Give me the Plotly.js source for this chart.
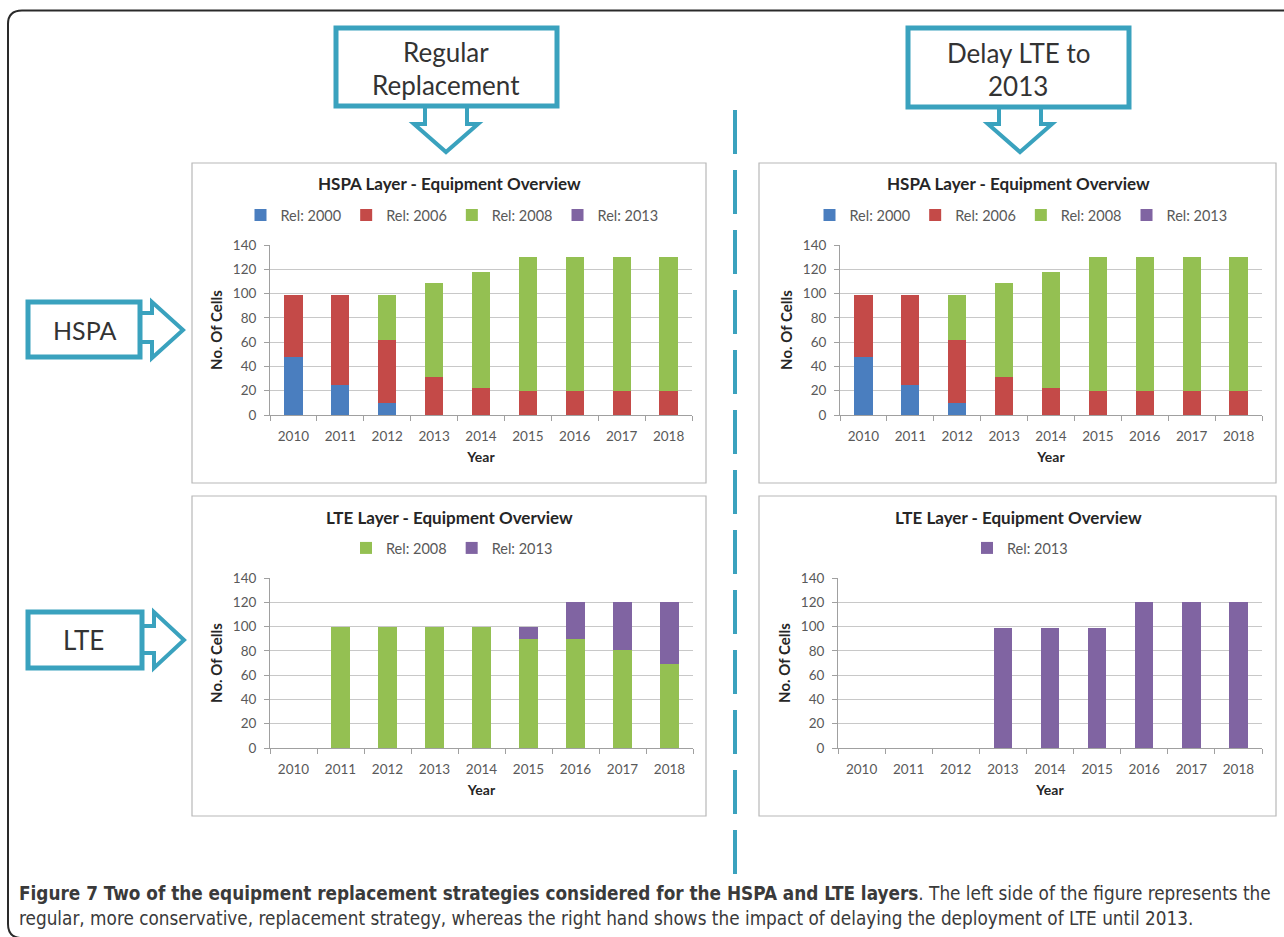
<!DOCTYPE html>
<html>
<head>
<meta charset="utf-8">
<script src="https://cdn.plot.ly/plotly-3.0.1.min.js"></script>
<style>
html,body{margin:0;padding:0;background:#fff;}
#chart{width:1284px;height:937px;}
</style>
</head>
<body>
<div id="chart"></div>
<script>
// ---------------- data ----------------
const years = ['2010','2011','2012','2013','2014','2015','2016','2017','2018'];
const seriesNames = ['Rel: 2000','Rel: 2006','Rel: 2008','Rel: 2013'];

// HSPA layer (identical in both strategies)
const hspaRel2000 = [48, 25, 10, 0, 0, 0, 0, 0, 0];
const hspaRel2006 = [51, 74, 52, 31, 22, 20, 20, 20, 20];
const hspaRel2008 = [0, 0, 37, 78, 96, 110, 110, 110, 110];
const hspaRel2013 = [0, 0, 0, 0, 0, 0, 0, 0, 0];

// LTE layer - regular replacement
const lteRegularRel2008 = [0, 100, 100, 100, 100, 90, 90, 81, 69];
const lteRegularRel2013 = [0, 0, 0, 0, 0, 10, 30, 39, 51];

// LTE layer - delay LTE to 2013
const lteDelayRel2013 = [0, 0, 0, 99, 99, 99, 120, 120, 120];

const chartTitle = {hspa: 'HSPA Layer - Equipment Overview', lte: 'LTE Layer - Equipment Overview'};
const yTitle = 'No. Of Cells';
const xTitle = 'Year';
const captionBold = 'Figure 7 Two of the equipment replacement strategies considered for the HSPA and LTE layers';
const captionLine1 = '. The left side of the figure represents the';
const captionLine2 = 'regular, more conservative, replacement strategy, whereas the right hand shows the impact of delaying the deployment of LTE until 2013.';

// ---------------- styling ----------------
const W = 1284, H = 937;
const colors = {'Rel: 2000':'#4a7ebf','Rel: 2006':'#c44a48','Rel: 2008':'#94c052','Rel: 2013':'#8064a2'};
const teal = '#3aa2be';
const px = x => x / W;
const py = y => 1 - y / H;
const FONT = 'Lato, "Open Sans", sans-serif';

// plot areas in pixels [x0, x1, y0(top), y1(bottom)]
const areas = [
  [270, 692, 245, 415],   // top-left
  [270, 693, 578, 748],   // bottom-left
  [840, 1262, 245, 415],  // top-right
  [838, 1262, 578, 748]   // bottom-right
];

const traces = [];
function addBar(idx, name, values) {
  const sfx = idx === 0 ? '' : String(idx + 1);
  traces.push({
    type: 'bar', x: years, y: values, name: name,
    xaxis: 'x' + sfx, yaxis: 'y' + sfx,
    legend: 'legend' + sfx,
    marker: {color: colors[name], line: {width: 0}},
    hoverinfo: 'skip'
  });
}
addBar(0, 'Rel: 2000', hspaRel2000);
addBar(0, 'Rel: 2006', hspaRel2006);
addBar(0, 'Rel: 2008', hspaRel2008);
addBar(0, 'Rel: 2013', hspaRel2013);
addBar(1, 'Rel: 2008', lteRegularRel2008);
addBar(1, 'Rel: 2013', lteRegularRel2013);
addBar(2, 'Rel: 2000', hspaRel2000);
addBar(2, 'Rel: 2006', hspaRel2006);
addBar(2, 'Rel: 2008', hspaRel2008);
addBar(2, 'Rel: 2013', hspaRel2013);
addBar(3, 'Rel: 2013', lteDelayRel2013);

const layout = {
  width: W, height: H,
  margin: {l: 0, r: 0, t: 0, b: 0},
  paper_bgcolor: '#fff', plot_bgcolor: '#fff',
  barmode: 'stack', bargap: 0.61,
  showlegend: true,
  font: {family: FONT, color: '#595959', size: 13},
  shapes: [], annotations: []
};

areas.forEach((a, i) => {
  const sfx = i === 0 ? '' : String(i + 1);
  layout['xaxis' + sfx] = {
    type: 'category', domain: [px(a[0]), px(a[1])], anchor: 'y' + sfx,
    showline: true, linecolor: '#a0a0a0', linewidth: 1,
    ticks: 'outside', tickson: 'boundaries', ticklen: 5, tickcolor: '#a0a0a0',
    ticklabelstandoff: 9,
    tickfont: {family: FONT, size: 13.5, color: '#595959'},
    showgrid: false, zeroline: false, fixedrange: true,
    title: {text: '<b>' + xTitle + '</b>', font: {family: FONT, size: 14, color: '#262626'}, standoff: 8}
  };
  layout['yaxis' + sfx] = {
    domain: [py(a[3]), py(a[2])], anchor: 'x' + sfx,
    range: [0, 140], dtick: 20, tick0: 0,
    showline: true, linecolor: '#a0a0a0', linewidth: 1,
    ticks: 'outside', ticklen: 5, tickcolor: '#a0a0a0',
    ticklabelstandoff: 5,
    tickfont: {family: FONT, size: 13.5, color: '#595959'},
    showgrid: true, gridcolor: '#c8c8c8', gridwidth: 1, zeroline: false, fixedrange: true,
    title: {text: '<b>' + yTitle + '</b>', font: {family: FONT, size: 15, color: '#262626'}, standoff: 6}
  };
});

// legends
const legendPos = [[452, 215], [452, 548], [1021, 215], [1020, 548]];
legendPos.forEach((p, i) => {
  const sfx = i === 0 ? '' : String(i + 1);
  layout['legend' + sfx] = {
    orientation: 'h', x: px(p[0]), y: py(p[1]), xanchor: 'center', yanchor: 'middle',
    xref: 'paper', yref: 'paper',
    font: {family: FONT, size: 14.5, color: '#595959'},
    bgcolor: 'rgba(0,0,0,0)', itemwidth: 30, traceorder: 'normal',
    itemclick: false, itemdoubleclick: false
  };
});

// chart titles
const titlePos = [[449, 183, 'hspa'], [449, 517, 'lte'], [1018, 183, 'hspa'], [1018, 517, 'lte']];
titlePos.forEach(t => {
  layout.annotations.push({
    xref: 'paper', yref: 'paper', x: px(t[0]), y: py(t[1]), xanchor: 'center', yanchor: 'middle',
    text: '<b>' + chartTitle[t[2]] + '</b>', showarrow: false,
    font: {family: FONT, size: 17, color: '#262626'}
  });
});

// panel frames
[[192, 163, 706, 483], [192, 496, 706, 816], [759, 163, 1276, 483], [759, 496, 1276, 816]].forEach(r => {
  layout.shapes.push({type: 'rect', xref: 'paper', yref: 'paper', x0: px(r[0]), x1: px(r[2]), y0: py(r[1]), y1: py(r[3]),
    line: {color: '#b8b8b8', width: 1.2}, fillcolor: 'rgba(0,0,0,0)', layer: 'below'});
});

// outer rounded border
layout.shapes.push({type: 'path', xref: 'paper', yref: 'paper',
  path: 'M' + px(1290) + ',' + py(10.5) + ' L' + px(22) + ',' + py(10.5) +
        ' Q' + px(8) + ',' + py(10.5) + ' ' + px(8) + ',' + py(24) +
        ' L' + px(8) + ',' + py(924) + ' Q' + px(8) + ',' + py(937) + ' ' + px(20) + ',' + py(938),
  line: {color: '#2a2a2a', width: 2}});

// dashed divider
layout.shapes.push({type: 'line', xref: 'paper', yref: 'paper', x0: px(735), x1: px(735), y0: py(110), y1: py(874),
  line: {color: teal, width: 4, dash: '44px,16px'}});

// labelled boxes
function box(x0, y0, x1, y1) {
  layout.shapes.push({type: 'rect', xref: 'paper', yref: 'paper', x0: px(x0), x1: px(x1), y0: py(y0), y1: py(y1),
    line: {color: teal, width: 5}, fillcolor: '#fff'});
}
function poly(pts) {
  let d = 'M' + px(pts[0][0]) + ',' + py(pts[0][1]);
  for (let i = 1; i < pts.length; i++) d += ' L' + px(pts[i][0]) + ',' + py(pts[i][1]);
  layout.shapes.push({type: 'path', xref: 'paper', yref: 'paper', path: d, line: {color: teal, width: 4}});
}
box(336, 28, 557, 106);
poly([[425, 108], [425, 124], [414, 124], [446, 152], [478, 124], [467, 124], [467, 108]]);
box(908, 28, 1129, 107);
poly([[999, 109], [999, 124], [988, 124], [1020, 152], [1052, 124], [1041, 124], [1041, 109]]);
box(28, 302, 140, 357);
poly([[142, 313], [152, 313], [152, 302], [183, 330], [152, 358], [152, 342], [142, 342]]);
box(28, 612, 142, 668);
poly([[144, 626], [154, 626], [154, 612], [184, 640], [154, 668], [154, 653], [144, 653]]);

function label(x, y, text, size) {
  layout.annotations.push({xref: 'paper', yref: 'paper', x: px(x), y: py(y), xanchor: 'center', yanchor: 'middle',
    text: text, showarrow: false, font: {family: FONT, size: size, color: '#333333'}});
}
label(446, 52, 'Regular', 26);
label(446, 85, 'Replacement', 26);
label(1018, 53, 'Delay LTE to', 26);
label(1018, 86, '2013', 26);
label(85, 330, 'HSPA', 25);
label(84, 640, 'LTE', 26);

// caption
const capFont = '"DejaVu Sans Condensed", "Liberation Sans Narrow", sans-serif';
layout.annotations.push({xref: 'paper', yref: 'paper', x: px(17), y: py(893), xanchor: 'left', yanchor: 'middle',
  text: '<b>' + captionBold + '</b>' + captionLine1, showarrow: false, align: 'left',
  font: {family: capFont, size: 18.8, color: '#3a3a3a'}});
layout.annotations.push({xref: 'paper', yref: 'paper', x: px(17), y: py(918), xanchor: 'left', yanchor: 'middle',
  text: captionLine2, showarrow: false, align: 'left',
  font: {family: capFont, size: 18.8, color: '#3a3a3a'}});

Plotly.newPlot('chart', traces, layout, {staticPlot: true, displayModeBar: false});
</script>
</body>
</html>
